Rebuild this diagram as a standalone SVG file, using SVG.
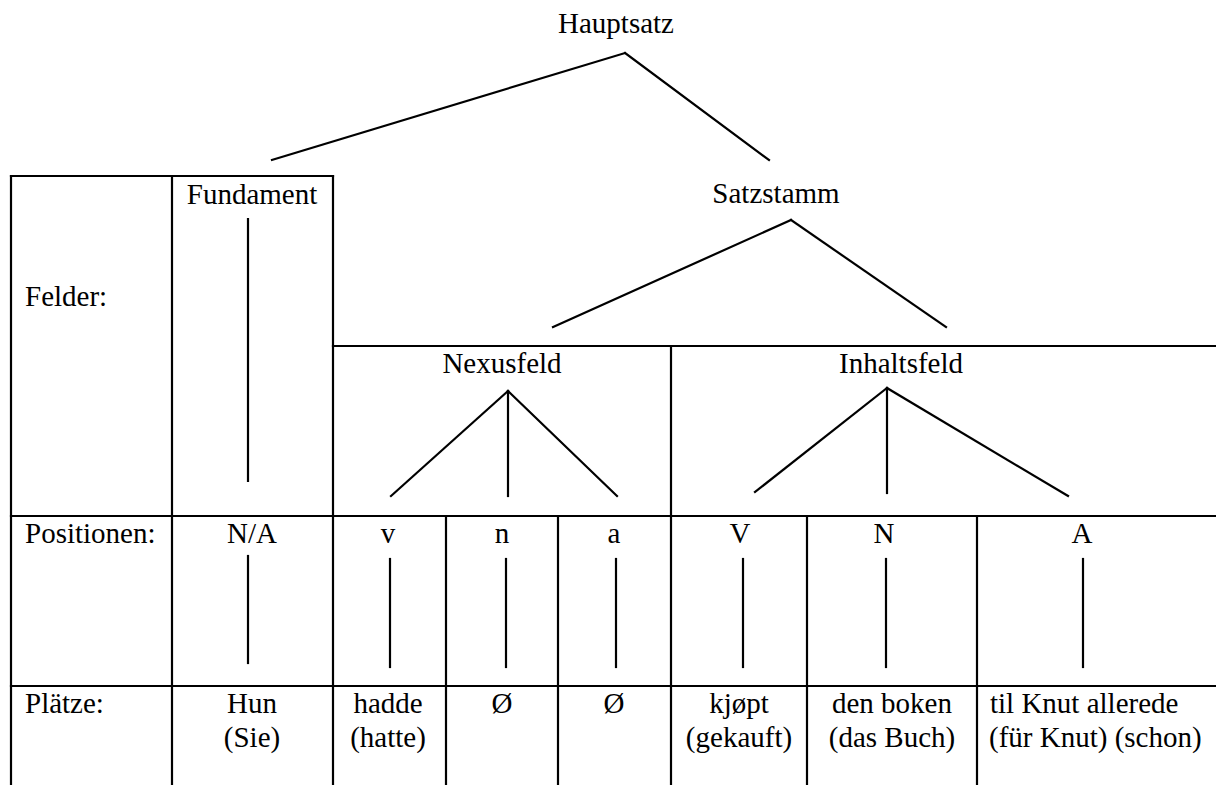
<svg xmlns="http://www.w3.org/2000/svg" width="1216" height="785" viewBox="0 0 1216 785">
<style>
text{font-family:"Liberation Serif",Tinos,"Times New Roman",Times,"Nimbus Roman","DejaVu Serif",serif;font-size:29px;fill:#000}
.c{text-anchor:middle}
.grid line,.conn line{stroke:#000;stroke-width:2.2;stroke-linecap:square}
</style>
<rect x="0" y="0" width="1216" height="785" fill="#fff"/>
<g class="grid" id="grid">
<line x1="11" y1="176" x2="333" y2="176"/>
<line x1="11" y1="176" x2="11" y2="790"/>
<line x1="172" y1="176" x2="172" y2="790"/>
<line x1="333" y1="176" x2="333" y2="790"/>
<line x1="333" y1="346" x2="1220" y2="346"/>
<line x1="11" y1="516" x2="1220" y2="516"/>
<line x1="11" y1="686" x2="1220" y2="686"/>
<line x1="446" y1="516" x2="446" y2="790"/>
<line x1="558" y1="516" x2="558" y2="790"/>
<line x1="671" y1="346" x2="671" y2="790"/>
<line x1="807" y1="516" x2="807" y2="790"/>
<line x1="977" y1="516" x2="977" y2="790"/>
</g>
<g class="conn" id="connectors">
<line x1="625" y1="53" x2="272" y2="160"/>
<line x1="625" y1="53" x2="769" y2="160"/>
<line x1="248" y1="219" x2="248" y2="481"/>
<line x1="791" y1="220" x2="553" y2="327"/>
<line x1="791" y1="220" x2="946" y2="327"/>
<line x1="508" y1="391" x2="391" y2="496"/>
<line x1="508" y1="391" x2="508" y2="496"/>
<line x1="508" y1="391" x2="617" y2="496"/>
<line x1="887" y1="388" x2="755" y2="492"/>
<line x1="887" y1="388" x2="887" y2="493"/>
<line x1="887" y1="388" x2="1068" y2="496"/>
<line x1="248" y1="556" x2="248" y2="663"/>
<line x1="390" y1="559" x2="390" y2="667"/>
<line x1="506" y1="559" x2="506" y2="667"/>
<line x1="616" y1="559" x2="616" y2="667"/>
<line x1="743" y1="559" x2="743" y2="667"/>
<line x1="886" y1="559" x2="886" y2="667"/>
<line x1="1083" y1="559" x2="1083" y2="667"/>
</g>
<g id="hauptsatz"><text class="c" x="616" y="33">Hauptsatz</text></g>
<g id="felder-label"><text x="25" y="306">Felder:</text></g>
<g id="fundament"><text class="c" x="252" y="204">Fundament</text></g>
<g id="satzstamm"><text class="c" x="776" y="203">Satzstamm</text></g>
<g id="nexusfeld"><text class="c" x="502" y="373">Nexusfeld</text></g>
<g id="inhaltsfeld"><text class="c" x="901" y="373">Inhaltsfeld</text></g>
<g id="positionen-label"><text x="25" y="543">Positionen:</text></g>
<g id="pos-na"><text class="c" x="252" y="543">N/A</text></g>
<g id="pos-v"><text class="c" x="388" y="543">v</text></g>
<g id="pos-n"><text class="c" x="502" y="543">n</text></g>
<g id="pos-a"><text class="c" x="614" y="543">a</text></g>
<g id="pos-V"><text class="c" x="740" y="543">V</text></g>
<g id="pos-N"><text class="c" x="884" y="543">N</text></g>
<g id="pos-A"><text class="c" x="1082" y="543">A</text></g>
<g id="plaetze-label"><text x="25" y="713">Plätze:</text></g>
<g id="platz-hun"><text class="c" x="252" y="713">Hun</text><text class="c" x="252" y="747">(Sie)</text></g>
<g id="platz-hadde"><text class="c" x="388" y="713">hadde</text><text class="c" x="388" y="747">(hatte)</text></g>
<g id="platz-n"><text class="c" x="502" y="713">Ø</text></g>
<g id="platz-a"><text class="c" x="614" y="713">Ø</text></g>
<g id="platz-kjopt"><text class="c" x="739" y="713">kjøpt</text><text class="c" x="739" y="747">(gekauft)</text></g>
<g id="platz-boken"><text class="c" x="892" y="713">den boken</text><text class="c" x="892" y="747">(das Buch)</text></g>
<g id="platz-knut"><text x="990" y="713">til Knut allerede</text><text x="989" y="747">(für Knut) (schon)</text></g>
</svg>
